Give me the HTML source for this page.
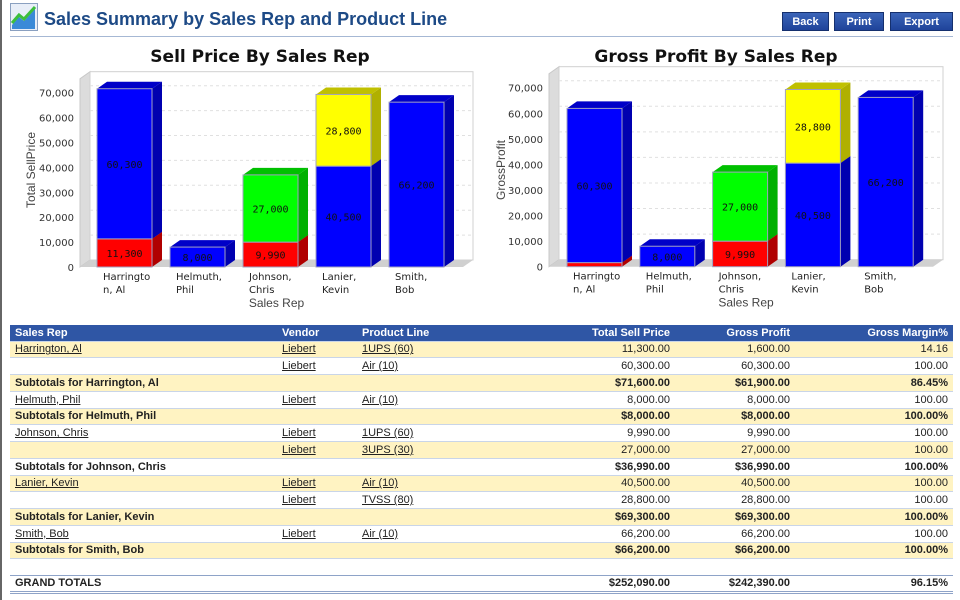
<!DOCTYPE html>
<html><head><meta charset="utf-8">
<style>
body{margin:0;width:960px;height:600px;overflow:hidden;background:#fff;font-family:"Liberation Sans",sans-serif;position:relative}
#lb{position:absolute;left:0;top:0;width:2px;height:600px;background:#666}
.title{position:absolute;left:44px;top:9px;font-size:18px;font-weight:bold;color:#1d4a86}
.hr{position:absolute;left:10px;top:36px;width:943px;height:1px;background:#a6b8d4}
.btn{position:absolute;top:12px;height:19px;line-height:19px;background:linear-gradient(#3a64b8,#1f439a);color:#fff;font-weight:bold;font-size:11px;text-align:center;border:1px solid #15306e;box-sizing:border-box}
table{position:absolute;left:10px;top:325px;width:943px;border-collapse:collapse;font-size:11px;color:#222;table-layout:fixed}
td,th{height:16.75px;padding:0 5px;white-space:nowrap;border-bottom:1px solid #c9d5e8;box-sizing:border-box;overflow:visible}
th{background:#2f56a5;color:#fff;text-align:left;font-weight:bold;height:16px}
tr.y td{background:#fff3c2}
.r{text-align:right}
a{color:#222}
b{font-weight:bold}
tr.g td{border-top:1px solid #8ea3c8;border-bottom:3px double #8ea3c8;font-weight:bold}
</style></head><body>
<div id="lb"></div>
<svg style="position:absolute;left:10px;top:3px" width="28" height="28">
<rect x="0.5" y="0.5" width="27" height="27" fill="#e8eef8" stroke="#8aa0c0"/>
<path d="M2 22 L9 14 L14 18 L25 6 L25 26 L2 26Z" fill="#3a8ad8"/>
<path d="M2 20 L9 12 L14 16 L25 4" stroke="#3cbf3c" stroke-width="3" fill="none"/>
</svg>
<div class="title">Sales Summary by Sales Rep and Product Line</div>
<div class="btn" style="left:782px;width:47px">Back</div>
<div class="btn" style="left:834px;width:50px">Print</div>
<div class="btn" style="left:890px;width:63px">Export</div>
<div class="hr"></div>

<svg id="charts" style="position:absolute;left:0;top:0" width="960" height="320"></svg>

<table>
<colgroup><col style="width:267px"><col style="width:80px"><col style="width:163px"><col style="width:155px"><col style="width:120px"><col style="width:158px"></colgroup>
<tr><th>Sales Rep</th><th>Vendor</th><th>Product Line</th><th class="r">Total Sell Price</th><th class="r">Gross Profit</th><th class="r">Gross Margin%</th></tr>
<tr class="y"><td><a href="#">Harrington, Al</a></td><td><a href="#">Liebert</a></td><td><a href="#">1UPS (60)</a></td><td class="r">11,300.00</td><td class="r">1,600.00</td><td class="r">14.16</td></tr>
<tr><td></td><td><a href="#">Liebert</a></td><td><a href="#">Air (10)</a></td><td class="r">60,300.00</td><td class="r">60,300.00</td><td class="r">100.00</td></tr>
<tr class="y"><td><b>Subtotals for Harrington, Al</b></td><td></td><td></td><td class="r"><b>$71,600.00</b></td><td class="r"><b>$61,900.00</b></td><td class="r"><b>86.45%</b></td></tr>
<tr><td><a href="#">Helmuth, Phil</a></td><td><a href="#">Liebert</a></td><td><a href="#">Air (10)</a></td><td class="r">8,000.00</td><td class="r">8,000.00</td><td class="r">100.00</td></tr>
<tr class="y"><td><b>Subtotals for Helmuth, Phil</b></td><td></td><td></td><td class="r"><b>$8,000.00</b></td><td class="r"><b>$8,000.00</b></td><td class="r"><b>100.00%</b></td></tr>
<tr><td><a href="#">Johnson, Chris</a></td><td><a href="#">Liebert</a></td><td><a href="#">1UPS (60)</a></td><td class="r">9,990.00</td><td class="r">9,990.00</td><td class="r">100.00</td></tr>
<tr class="y"><td></td><td><a href="#">Liebert</a></td><td><a href="#">3UPS (30)</a></td><td class="r">27,000.00</td><td class="r">27,000.00</td><td class="r">100.00</td></tr>
<tr><td><b>Subtotals for Johnson, Chris</b></td><td></td><td></td><td class="r"><b>$36,990.00</b></td><td class="r"><b>$36,990.00</b></td><td class="r"><b>100.00%</b></td></tr>
<tr class="y"><td><a href="#">Lanier, Kevin</a></td><td><a href="#">Liebert</a></td><td><a href="#">Air (10)</a></td><td class="r">40,500.00</td><td class="r">40,500.00</td><td class="r">100.00</td></tr>
<tr><td></td><td><a href="#">Liebert</a></td><td><a href="#">TVSS (80)</a></td><td class="r">28,800.00</td><td class="r">28,800.00</td><td class="r">100.00</td></tr>
<tr class="y"><td><b>Subtotals for Lanier, Kevin</b></td><td></td><td></td><td class="r"><b>$69,300.00</b></td><td class="r"><b>$69,300.00</b></td><td class="r"><b>100.00%</b></td></tr>
<tr><td><a href="#">Smith, Bob</a></td><td><a href="#">Liebert</a></td><td><a href="#">Air (10)</a></td><td class="r">66,200.00</td><td class="r">66,200.00</td><td class="r">100.00</td></tr>
<tr class="y"><td><b>Subtotals for Smith, Bob</b></td><td></td><td></td><td class="r"><b>$66,200.00</b></td><td class="r"><b>$66,200.00</b></td><td class="r"><b>100.00%</b></td></tr>
<tr><td style="border:none;height:11px"></td><td style="border:none"></td><td style="border:none"></td><td style="border:none"></td><td style="border:none"></td><td style="border:none"></td></tr>
<tr class="g"><td>GRAND TOTALS</td><td></td><td></td><td class="r">$252,090.00</td><td class="r">$242,390.00</td><td class="r">96.15%</td></tr>
</table>

<script>
const categories = [["Harringto","n, Al"],["Helmuth,","Phil"],["Johnson,","Chris"],["Lanier,","Kevin"],["Smith,","Bob"]];
const yTicks = [0,10000,20000,30000,40000,50000,60000,70000];
const sellRed    = [11300,0,9990,0,0];
const sellBlue   = [60300,8000,0,40500,66200];
const sellGreen  = [0,0,27000,0,0];
const sellYellow = [0,0,0,28800,0];
const gpRed    = [1600,0,9990,0,0];
const gpBlue   = [60300,8000,0,40500,66200];
const gpGreen  = [0,0,27000,0,0];
const gpYellow = [0,0,0,28800,0];

const NS="http://www.w3.org/2000/svg";
const svg=document.getElementById('charts');
function mk(tag,attrs,parent){const e=document.createElementNS(NS,tag);for(const k in attrs)e.setAttribute(k,attrs[k]);(parent||svg).appendChild(e);return e;}
const colors={red:["#ff0000","#b00000","#c80000"],blue:["#0000ff","#0000b0","#0000c8"],green:["#00ff00","#00b000","#00c000"],yellow:["#ffff00","#b0b000","#c0c000"]};
const fmt=v=>v.toLocaleString('en-US');

function chart(cfg){
  const g=mk('g',{});
  
  
  const DX=10,DY=7;
  const y=v=>cfg.y0-v*cfg.k;
  const top=y(70000)-DY-14;
  const w=mk('polygon',{points:`${cfg.x0},${cfg.y0} ${cfg.x0+DX},${cfg.y0-DY} ${cfg.x0+DX},${top} ${cfg.x0},${top+DY}`,fill:"#dcdcdc",stroke:"#c8c8c8"},g);
  
  const bw=mk('rect',{x:cfg.x0+DX,y:top,width:cfg.x1-cfg.x0-DX,height:cfg.y0-DY-top,fill:"#fff",stroke:"#d0d0d0"},g);
  
  const fl=mk('polygon',{points:`${cfg.x0},${cfg.y0} ${cfg.x1-DX},${cfg.y0} ${cfg.x1},${cfg.y0-DY} ${cfg.x0+DX},${cfg.y0-DY}`,fill:"#d0d0d0"},g);
  
  yTicks.forEach(t=>{
    if(t>0){const gl=mk('line',{x1:cfg.x0+DX,x2:cfg.x1,y1:y(t)-DY,y2:y(t)-DY,stroke:"#e0e0e0","stroke-dasharray":"3,3"},g);
      }
    const tl=mk('text',{x:cfg.x0-6,y:y(t)+4,"text-anchor":"end","font-size":"10","fill":"#333","font-family":"DejaVu Sans, sans-serif"},g);
    tl.textContent=fmt(t);
    
  });
  const series=[["red",cfg.red],["blue",cfg.blue],["green",cfg.green],["yellow",cfg.yellow]];
  categories.forEach((c,i)=>{
    const bx=cfg.bx+i*cfg.step, bw=55;
    let acc=0;
    series.forEach(([col,arr])=>{
      const v=arr[i]; if(!v) return;
      const yb=y(acc), yt=y(acc+v); acc+=v;
      const bg=mk('g',{},g);
      
      const cs=colors[col];
      mk('polygon',{points:`${bx+bw},${yb} ${bx+bw+DX},${yb-DY} ${bx+bw+DX},${yt-DY} ${bx+bw},${yt}`,fill:cs[1]},bg);
      mk('polygon',{points:`${bx},${yt} ${bx+DX},${yt-DY} ${bx+bw+DX},${yt-DY} ${bx+bw},${yt}`,fill:cs[2]},bg);
      mk('rect',{x:bx,y:yt,width:bw,height:yb-yt,fill:cs[0],stroke:"#a0a0c0","stroke-width":"1"},bg);
      if(v>=5000){const t=mk('text',{x:bx+bw/2,y:(yb+yt)/2+4,"text-anchor":"middle","font-size":"10","fill":"#111","font-family":"DejaVu Sans Mono, monospace"},bg);t.textContent=fmt(v);}
    });
    c.forEach((ln,j)=>{
      const t=mk('text',{x:bx+6,y:cfg.y0+13+j*13,"font-size":"10","fill":"#222","font-family":"DejaVu Sans, sans-serif"},g);
      t.textContent=ln;
      
    });
  });
  const xt=mk('text',{x:(cfg.x0+cfg.x1)/2,y:cfg.y0+40,"text-anchor":"middle","font-size":"12","fill":"#444"},g);
  xt.textContent="Sales Rep";
  
  const ytl=mk('text',{x:0,y:0,transform:`translate(${cfg.ytx},${cfg.yty}) rotate(-90)`,"text-anchor":"middle","font-size":"12","fill":"#444"},g);
  ytl.textContent=cfg.ytitle;
  
  const tt=mk('text',{x:cfg.tx,y:62,"text-anchor":"middle","font-size":"17","font-weight":"bold","fill":"#111","font-family":"DejaVu Sans, sans-serif"},g);
  tt.textContent=cfg.title;
  
}
chart({name:"sell-price-chart",title:"Sell Price By Sales Rep",tx:260,x0:80,x1:473,y0:267,k:174.3/70000,bx:97,step:73,
  red:sellRed,blue:sellBlue,green:sellGreen,yellow:sellYellow,ytitle:"Total SellPrice",ytx:35,yty:170});
chart({name:"gross-profit-chart",title:"Gross Profit By Sales Rep",tx:716,x0:549,x1:943,y0:266.7,k:179/70000,bx:567,step:72.8,
  red:gpRed,blue:gpBlue,green:gpGreen,yellow:gpYellow,ytitle:"GrossProfit",ytx:505,yty:170});
</script>
</body></html>
